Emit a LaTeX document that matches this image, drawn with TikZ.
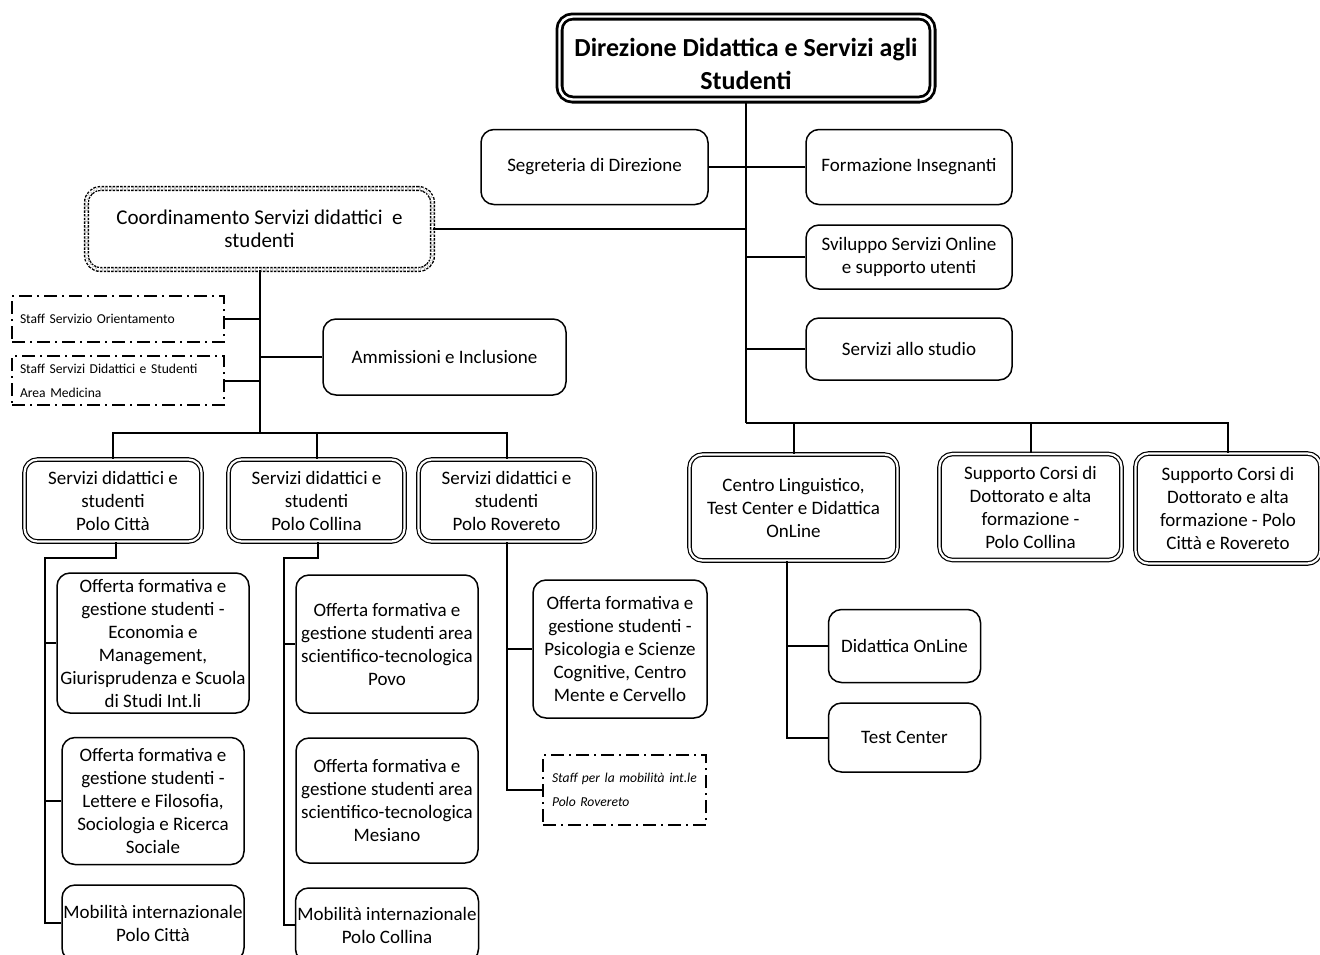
\documentclass[tikz,border=0pt]{standalone}
\usepackage{fontspec}
\setmainfont{Carlito}
\newcommand\fN{\fontsize{19}{23}\selectfont}
\newcommand\fS{\fontsize{13.6}{24}\selectfont}
\newcommand\fH{\fontsize{26}{33}\selectfont\bfseries}
\newcommand\fC{\fontsize{21}{23.5}\selectfont}
\begin{document}
\begin{tikzpicture}[x=1pt,y=-1pt,
 conn/.style={line width=2pt},
 box/.style={draw, rounded corners=13pt, line width=1.5pt, align=center, inner sep=0pt, font=\fN},
 dbox/.style={box, double, double distance=2.2pt, line width=1.2pt},
 topbox/.style={draw, rounded corners=13pt, line width=2.8pt, double, double distance=2.4pt},
 toptext/.style={align=center, inner sep=0pt, font=\fH},
 coordbox/.style={draw, rounded corners=14pt, line width=1.4pt, dash pattern=on 2.4pt off 1.3pt, double, double distance=2.4pt, align=center, inner sep=0pt, font=\fC},
 staffbox/.style={draw, line width=1.3pt, dash pattern=on 13pt off 5pt on 2pt off 5pt, align=left, inner sep=0pt, font=\fS},
 sz/.style 2 args={minimum width=#1pt, minimum height=#2pt}]
\useasboundingbox (0,0) rectangle (1320,954);
\clip (0,0) rectangle (1320,954);

% top level
\node[topbox, sz={373}{83}] (top) at (746,58) {};
\node[toptext] (topt) at (746,64) {Direzione Didattica e Servizi agli\\Studenti};
\node[box, sz={227}{75}] (seg) at (594.5,167) {Segreteria di Direzione};
\node[box, sz={206}{75}] (form) at (909,167) {Formazione Insegnanti};
\node[coordbox, sz={346}{81}] (coord) at (259.5,229) {Coordinamento Servizi didattici \ e\\studenti};
\node[box, sz={206}{64}] (svil) at (909,257) {Sviluppo Servizi Online\\e supporto utenti};
\node[box, sz={206}{62}] (sstud) at (909,349) {Servizi allo studio};

% coordinamento children
\node[staffbox, sz={212}{46}, text width=196pt] (staffO) at (118,319) {Staff Servizio Orientamento};
\node[staffbox, sz={212}{49}, text width=196pt] (staffM) at (118,380.5) {Staff Servizi Didattici e Studenti\\Area Medicina};
\node[box, sz={243}{76}] (amm) at (444.5,357) {Ammissioni e Inclusione};

\node[dbox, sz={177}{82}] (pCitta) at (113,500.5) {Servizi didattici e\\studenti\\Polo Città};
\node[dbox, sz={176}{82}] (pColl) at (316.5,500.5) {Servizi didattici e\\studenti\\Polo Collina};
\node[dbox, sz={176}{82}] (pRov) at (506.5,500.5) {Servizi didattici e\\studenti\\Polo Rovereto};

\node[box, sz={192}{140}] (eco) at (153,643) {Offerta formativa e\\gestione studenti -\\Economia e\\Management,\\Giurisprudenza e Scuola\\di Studi Int.li};
\node[box, sz={182}{127}] (lett) at (153,801) {Offerta formativa e\\gestione studenti -\\Lettere e Filosofia,\\Sociologia e Ricerca\\Sociale};
\node[box, sz={182}{76}] (mobC) at (153,923) {Mobilità internazionale\\Polo Città};

\node[box, sz={182}{138}] (povo) at (387,644) {Offerta formativa e\\gestione studenti area\\scientifico-tecnologica\\Povo};
\node[box, sz={182}{125}] (mes) at (387,800.5) {Offerta formativa e\\gestione studenti area\\scientifico-tecnologica\\Mesiano};
\node[box, sz={183}{74}] (mobCol) at (387,925) {Mobilità internazionale\\Polo Collina};

\node[box, sz={174}{138}] (psi) at (620,649) {Offerta formativa e\\gestione studenti -\\Psicologia e Scienze\\Cognitive, Centro\\Mente e Cervello};
\node[staffbox, sz={163}{70}, text width=145pt, font=\fS\itshape] (staffR) at (624.5,790) {Staff per la mobilità int.le\\Polo Rovereto};

% right branch
\node[dbox, sz={208}{106}] (centro) at (793.5,507.5) {Centro Linguistico,\\Test Center e Didattica\\OnLine};
\node[box, sz={152}{73}] (didon) at (904.5,646) {Didattica OnLine};
\node[box, sz={152}{69}] (test) at (904.5,737.5) {Test Center};
\node[dbox, sz={182}{106}] (supCol) at (1030.5,507) {Supporto Corsi di\\Dottorato e alta\\formazione -\\Polo Collina};
\node[dbox, sz={185}{110}] (supCit) at (1228,508.5) {Supporto Corsi di\\Dottorato e alta\\formazione - Polo\\Città e Rovereto};

% connectors: direction
\coordinate (hubR) at (746,423);
\draw[conn] (top.south) -- (hubR);
\draw[conn] (seg.east) -- (seg.east -| hubR);
\draw[conn] (form.west) -- (form.west -| hubR);
\draw[conn] (coord.east) -- (coord.east -| hubR);
\draw[conn] (svil.west) -- (svil.west -| hubR);
\draw[conn] (sstud.west) -- (sstud.west -| hubR);
\draw[conn] (hubR) -| (centro.north);
\draw[conn] (hubR) -| (supCol.north);
\draw[conn] (hubR) -| (supCit.north);

% connectors: coordinamento
\coordinate (hubL) at (259.5,433);
\draw[conn] (coord.south) -- (hubL);
\draw[conn] (staffO.east) -- (staffO.east -| hubL);
\draw[conn] (staffM.east) -- (staffM.east -| hubL);
\draw[conn] (amm.west) -- (amm.west -| hubL);
\draw[conn] (hubL) -| (pCitta.north);
\draw[conn] (hubL) -| (pColl.north);
\draw[conn] (hubL) -| (pRov.north);

% polo citta
\coordinate (vC) at (45,558);
\draw[conn] ([xshift=3pt]pCitta.south) |- (vC) |- (mobC.west);
\draw[conn] (eco.west -| vC) -- (eco.west);
\draw[conn] (lett.west -| vC) -- (lett.west);

% polo collina
\coordinate (vCol) at (284,558);
\draw[conn] ([xshift=1.5pt]pColl.south) |- (vCol) |- (mobCol.west);
\draw[conn] (povo.west -| vCol) -- (povo.west);

% polo rovereto
\draw[conn] (pRov.south) |- (staffR.west);
\draw[conn] (psi.west -| pRov.south) -- (psi.west);

% centro linguistico
\coordinate (cl) at ([xshift=-6.5pt]centro.south);
\draw[conn] (cl) |- (test.west);
\draw[conn] (didon.west -| cl) -- (didon.west);
\end{tikzpicture}
\end{document}
